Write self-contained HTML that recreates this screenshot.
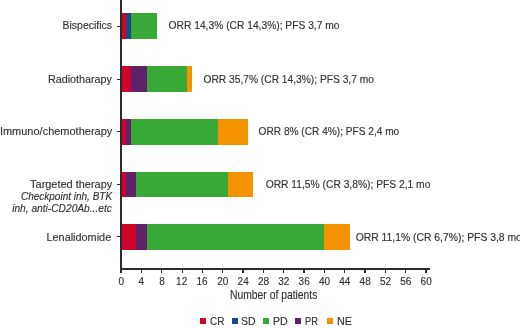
<!DOCTYPE html><html><head><meta charset="utf-8"><style>
html,body{margin:0;padding:0;background:#fff;}
body{width:520px;height:328px;position:relative;overflow:hidden;font-family:"Liberation Sans",sans-serif;color:#333333;}
.a{position:absolute;}
.t{position:absolute;white-space:nowrap;line-height:1;filter:grayscale(0);-webkit-text-stroke:0.15px #333333;}
.t span{display:inline-block;transform-origin:0 0;}
</style></head><body>
<div class="a" style="left:121.10px;top:13.30px;width:5.08px;height:25.8px;background:#cf022b"></div>
<div class="a" style="left:126.18px;top:13.30px;width:5.08px;height:25.8px;background:#194b82"></div>
<div class="a" style="left:131.27px;top:13.30px;width:25.41px;height:25.8px;background:#38a836"></div>
<div class="a" style="left:121.10px;top:66.30px;width:10.17px;height:25.8px;background:#cf022b"></div>
<div class="a" style="left:131.27px;top:66.30px;width:15.25px;height:25.8px;background:#5f2168"></div>
<div class="a" style="left:146.51px;top:66.30px;width:40.66px;height:25.8px;background:#38a836"></div>
<div class="a" style="left:187.18px;top:66.30px;width:5.08px;height:25.8px;background:#f49200"></div>
<div class="a" style="left:121.10px;top:119.00px;width:5.08px;height:25.8px;background:#cf022b"></div>
<div class="a" style="left:126.18px;top:119.00px;width:5.08px;height:25.8px;background:#5f2168"></div>
<div class="a" style="left:131.27px;top:119.00px;width:86.41px;height:25.8px;background:#38a836"></div>
<div class="a" style="left:217.68px;top:119.00px;width:30.50px;height:25.8px;background:#f49200"></div>
<div class="a" style="left:121.10px;top:171.70px;width:5.08px;height:25.8px;background:#cf022b"></div>
<div class="a" style="left:126.18px;top:171.70px;width:10.17px;height:25.8px;background:#5f2168"></div>
<div class="a" style="left:136.35px;top:171.70px;width:91.49px;height:25.8px;background:#38a836"></div>
<div class="a" style="left:227.84px;top:171.70px;width:25.41px;height:25.8px;background:#f49200"></div>
<div class="a" style="left:121.10px;top:223.90px;width:15.25px;height:25.8px;background:#cf022b"></div>
<div class="a" style="left:136.35px;top:223.90px;width:10.17px;height:25.8px;background:#5f2168"></div>
<div class="a" style="left:146.51px;top:223.90px;width:177.91px;height:25.8px;background:#38a836"></div>
<div class="a" style="left:324.42px;top:223.90px;width:25.41px;height:25.8px;background:#f49200"></div>
<div class="a" style="left:120.2px;top:0;width:1.7px;height:272.6px;background:#2b2b2b"></div>
<div class="a" style="left:120.2px;top:268.3px;width:309.8px;height:1.5px;background:#2b2b2b"></div>
<div class="a" style="left:140.83px;top:270px;width:1.2px;height:2.8px;background:#2b2b2b"></div>
<div class="a" style="left:161.16px;top:270px;width:1.2px;height:2.8px;background:#2b2b2b"></div>
<div class="a" style="left:181.50px;top:270px;width:1.2px;height:2.8px;background:#2b2b2b"></div>
<div class="a" style="left:201.83px;top:270px;width:1.2px;height:2.8px;background:#2b2b2b"></div>
<div class="a" style="left:222.16px;top:270px;width:1.2px;height:2.8px;background:#2b2b2b"></div>
<div class="a" style="left:242.49px;top:270px;width:1.2px;height:2.8px;background:#2b2b2b"></div>
<div class="a" style="left:262.82px;top:270px;width:1.2px;height:2.8px;background:#2b2b2b"></div>
<div class="a" style="left:283.16px;top:270px;width:1.2px;height:2.8px;background:#2b2b2b"></div>
<div class="a" style="left:303.49px;top:270px;width:1.2px;height:2.8px;background:#2b2b2b"></div>
<div class="a" style="left:323.82px;top:270px;width:1.2px;height:2.8px;background:#2b2b2b"></div>
<div class="a" style="left:344.15px;top:270px;width:1.2px;height:2.8px;background:#2b2b2b"></div>
<div class="a" style="left:364.48px;top:270px;width:1.2px;height:2.8px;background:#2b2b2b"></div>
<div class="a" style="left:384.82px;top:270px;width:1.2px;height:2.8px;background:#2b2b2b"></div>
<div class="a" style="left:405.15px;top:270px;width:1.2px;height:2.8px;background:#2b2b2b"></div>
<div class="a" style="left:425.48px;top:270px;width:1.2px;height:2.8px;background:#2b2b2b"></div>
<div class="a" style="left:116.8px;top:25.60px;width:4px;height:1.2px;background:#2b2b2b"></div>
<div class="a" style="left:116.8px;top:78.60px;width:4px;height:1.2px;background:#2b2b2b"></div>
<div class="a" style="left:116.8px;top:131.30px;width:4px;height:1.2px;background:#2b2b2b"></div>
<div class="a" style="left:116.8px;top:184.00px;width:4px;height:1.2px;background:#2b2b2b"></div>
<div class="a" style="left:116.8px;top:236.20px;width:4px;height:1.2px;background:#2b2b2b"></div>
<div class="t" style="left:118.60px;top:277.00px;font-size:10.0px">0</div>
<div class="t" style="left:138.43px;top:277.00px;font-size:10.0px">4</div>
<div class="t" style="left:159.26px;top:277.00px;font-size:10.0px">8</div>
<div class="t" style="left:176.10px;top:277.00px;font-size:10.0px">12</div>
<div class="t" style="left:196.43px;top:277.00px;font-size:10.0px">16</div>
<div class="t" style="left:217.26px;top:277.00px;font-size:10.0px">20</div>
<div class="t" style="left:237.59px;top:277.00px;font-size:10.0px">24</div>
<div class="t" style="left:257.92px;top:277.00px;font-size:10.0px">28</div>
<div class="t" style="left:278.26px;top:277.00px;font-size:10.0px">32</div>
<div class="t" style="left:298.59px;top:277.00px;font-size:10.0px">36</div>
<div class="t" style="left:318.92px;top:277.00px;font-size:10.0px">40</div>
<div class="t" style="left:339.25px;top:277.00px;font-size:10.0px">44</div>
<div class="t" style="left:359.58px;top:277.00px;font-size:10.0px">48</div>
<div class="t" style="left:379.92px;top:277.00px;font-size:10.0px">52</div>
<div class="t" style="left:400.25px;top:277.00px;font-size:10.0px">56</div>
<div class="t" style="left:420.58px;top:277.00px;font-size:10.0px">60</div>
<div class="t" style="left:62.50px;top:20.46px;font-size:10.5px;">Bispecifics</div>
<div class="t" style="left:47.90px;top:73.66px;font-size:10.77px;">Radiotharapy</div>
<div class="t" style="left:-0.10px;top:125.60px;font-size:10.99px;">Immuno/chemotherapy</div>
<div class="t" style="left:30.10px;top:179.16px;font-size:10.94px;">Targeted therapy</div>
<div class="t" style="left:20.95px;top:192.01px;font-size:10.0px;font-style:italic;">Checkpoint inh, BTK</div>
<div class="t" style="left:12.20px;top:204.47px;font-size:10.2px;font-style:italic;">inh, anti-CD20Ab...etc</div>
<div class="t" style="left:46.50px;top:231.66px;font-size:10.88px;">Lenalidomide</div>
<div class="t" style="left:168.60px;top:21.17px;font-size:10.26px;">ORR 14,3% (CR 14,3%); PFS 3,7 mo</div>
<div class="t" style="left:203.50px;top:74.56px;font-size:10.23px;">ORR 35,7% (CR 14,3%); PFS 3,7 mo</div>
<div class="t" style="left:258.60px;top:127.37px;font-size:10.15px;">ORR 8% (CR 4%); PFS 2,4 mo</div>
<div class="t" style="left:265.70px;top:180.27px;font-size:10.28px;">ORR 11,5% (CR 3,8%); PFS 2,1 mo</div>
<div class="t" style="left:355.70px;top:233.37px;font-size:10.37px;">ORR 11,1% (CR 6,7%); PFS 3,8 mo</div>
<div class="t" style="left:229.90px;top:289.26px;font-size:12.7px;"><span style="transform:scaleX(0.815)">Number of patients</span></div>
<div class="t" style="left:210.20px;top:317.16px;font-size:10.2px;"><span style="transform:scaleX(0.98)">CR</span></div>
<div class="t" style="left:240.80px;top:317.16px;font-size:10.2px;"><span style="transform:scaleX(1.03)">SD</span></div>
<div class="t" style="left:273.20px;top:317.16px;font-size:10.2px;"><span style="transform:scaleX(1.04)">PD</span></div>
<div class="t" style="left:305.00px;top:317.16px;font-size:10.2px;"><span style="transform:scaleX(0.92)">PR</span></div>
<div class="t" style="left:336.60px;top:317.16px;font-size:10.2px;"><span style="transform:scaleX(1.06)">NE</span></div>
<div class="a" style="left:199.5px;top:318.2px;width:6px;height:6px;background:#cf022b"></div>
<div class="a" style="left:231.5px;top:318.2px;width:6px;height:6px;background:#194b82"></div>
<div class="a" style="left:263.4px;top:318.2px;width:6px;height:6px;background:#38a836"></div>
<div class="a" style="left:295.4px;top:318.2px;width:6px;height:6px;background:#5f2168"></div>
<div class="a" style="left:326.9px;top:318.2px;width:6px;height:6px;background:#f49200"></div>
</body></html>
